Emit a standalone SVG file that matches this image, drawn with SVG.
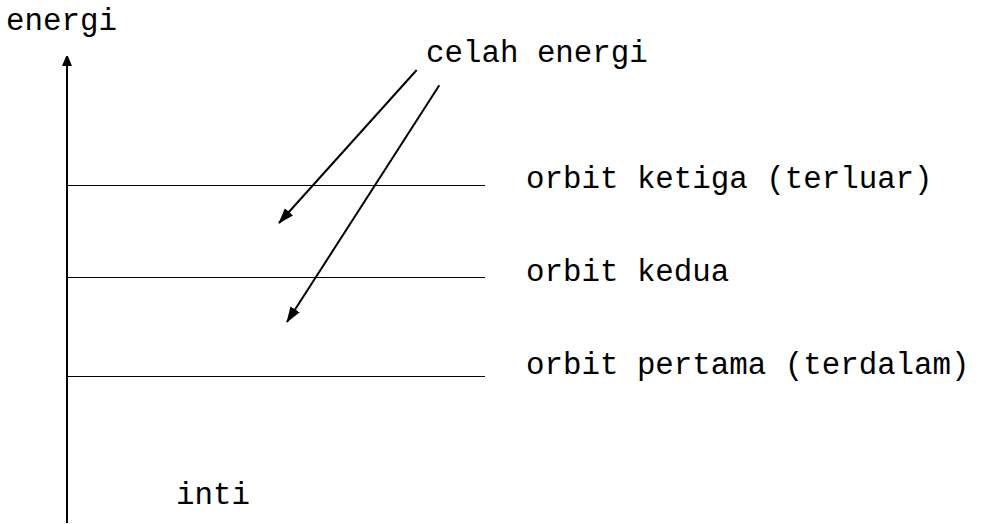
<svg xmlns="http://www.w3.org/2000/svg" width="983" height="524" viewBox="0 0 983 524">
<style>
text{font-family:"Liberation Mono","DejaVu Sans Mono",monospace;font-size:30.8px;fill:#000}
.lvl{stroke:#000;stroke-width:1}
.arr{stroke:#000;stroke-width:2;fill:none}
</style>
<defs>
<marker id="ah" markerWidth="10" markerHeight="12" refX="10" refY="5" orient="auto" markerUnits="userSpaceOnUse">
<path d="M0,0 L12,5 L0,10 Z" fill="#000"/>
</marker>
<marker id="ah2" markerWidth="16" markerHeight="12" refX="15" refY="5.5" orient="auto" markerUnits="userSpaceOnUse">
<path d="M0,0 L16,5.5 L0,11 Z" fill="#000"/>
</marker>
</defs>
<rect width="983" height="524" fill="#fff"/>
<g id="axis">
<line x1="67" y1="523" x2="67" y2="56" class="arr" marker-end="url(#ah)"/>
</g>
<g id="levels">
<line x1="67" y1="185.5" x2="485" y2="185.5" class="lvl" stroke="#444"/>
<line x1="67" y1="277.5" x2="485" y2="277.5" class="lvl"/>
<line x1="67" y1="376.5" x2="485" y2="376.5" class="lvl"/>
</g>
<g id="labels">
<text x="6" y="30">energi</text>
<text x="426" y="62">celah energi</text>
<text x="526" y="188">orbit ketiga (terluar)</text>
<text x="526" y="281">orbit kedua</text>
<text x="526" y="374">orbit pertama (terdalam)</text>
<text x="176" y="504">inti</text>
</g>
<g id="connectors">
<line x1="416.7" y1="70" x2="279" y2="223" class="arr" marker-end="url(#ah2)"/>
<line x1="439.3" y1="85.3" x2="287" y2="322" class="arr" marker-end="url(#ah2)"/>
</g>
</svg>
